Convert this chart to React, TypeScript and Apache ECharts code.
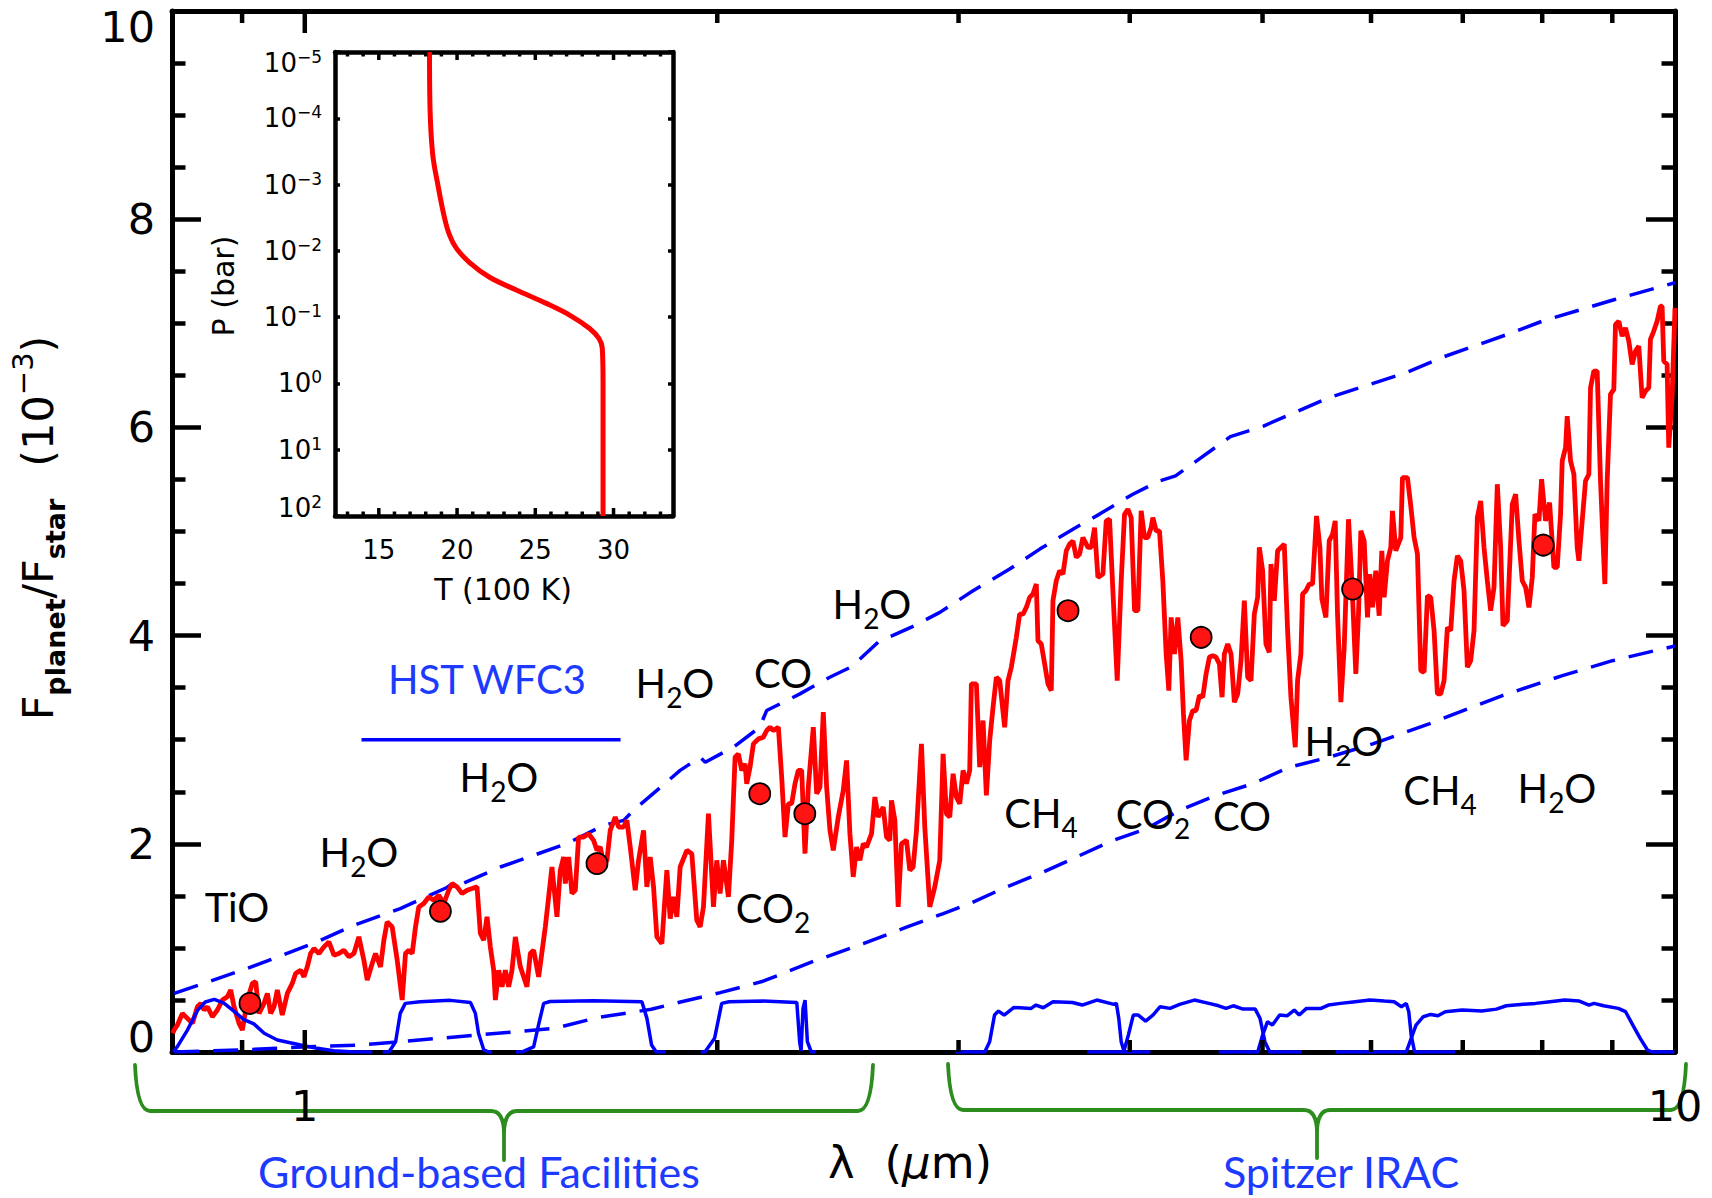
import React, { useEffect, useRef } from 'react';
import * as echarts from 'echarts';

// ---------------- DATA ----------------
// Model emission spectrum (wavelength in micron, Fplanet/Fstar in 1e-3)
const SPEC_1: number[][] = [
  [0.801,0.18],[0.8028,0.211],[0.8073,0.259],[0.8141,0.371],[0.821,0.323],[0.8279,0.275],[0.8349,0.435],[0.8396,0.467],[0.8443,0.403],[0.8491,0.435],
  [0.8562,0.339],[0.8634,0.403],[0.8707,0.499],[0.878,0.531],[0.8829,0.595],[0.8879,0.435],[0.8954,0.275],[0.9004,0.211],[0.908,0.499],[0.9157,0.659],
  [0.9208,0.675],[0.926,0.371],[0.9338,0.467],[0.9391,0.563],[0.9443,0.371],[0.9496,0.435],[0.9549,0.595],[0.9629,0.355],[0.9711,0.563],[0.9792,0.659],
  [0.9847,0.754],[0.993,0.786],[0.9986,0.722],[1.0042,0.818],[1.0098,0.946],[1.0155,0.994],[1.0241,0.946],[1.0327,1.01],[1.0414,1.058],[1.0502,0.93],
  [1.059,0.946],[1.068,0.978],[1.077,0.914],[1.0861,0.946],[1.0951,1.106],[1.1044,0.882],[1.1106,0.691],[1.1199,0.85],[1.1262,0.946],[1.1357,0.818],
  [1.1421,1.074],[1.1485,1.25],[1.1582,1.202],[1.168,0.882],[1.1778,0.499],[1.1844,0.946],[1.1911,0.978],[1.1978,0.946],[1.2045,1.202],[1.2112,1.394],
  [1.2214,1.426],[1.2317,1.49],[1.2421,1.458],[1.2526,1.506],[1.2631,1.426],[1.2737,1.554],[1.2809,1.618],[1.2917,1.586],[1.3025,1.522],[1.3135,1.554],
  [1.3246,1.57],[1.3357,1.586],[1.3432,1.138],[1.3508,1.074],[1.3583,1.298],[1.3659,1.01],[1.3736,0.786],[1.3775,0.499],[1.3852,0.786],[1.393,0.627],
  [1.4008,0.786],[1.4086,0.627],[1.4165,0.786],[1.4245,1.106],[1.4365,0.818],[1.4526,0.627],[1.4608,0.946],[1.469,0.978],[1.4814,0.722],[1.4981,1.202],
  [1.5065,1.49],[1.5149,1.777],[1.5277,1.298],[1.5363,1.746],[1.5449,1.873]
];
const SPEC_2: number[][] = [
  [1.5493,1.618],[1.558,1.873],[1.5667,1.522],[1.5755,1.554],[1.5843,2.065],[1.5977,2.065],[1.6111,2.097],[1.6247,2.033],[1.6338,1.937],[1.643,1.969],
  [1.6522,1.809],[1.6615,1.841],[1.6708,2.129],[1.6849,2.257],[1.6944,2.161],[1.7086,2.161],[1.7182,2.225],[1.7279,1.969],[1.7424,1.554],[1.7522,1.841],
  [1.767,2.129],[1.7769,1.586],[1.7869,1.873],[1.7969,1.586],[1.807,1.106],[1.8222,1.042],[1.8376,1.746],[1.8479,1.282],[1.8582,1.49],[1.8687,1.298],
  [1.8791,1.777],[1.9003,1.937],[1.9163,1.905],[1.9324,1.266],[1.9433,1.202],[1.9542,1.394],[1.9706,2.289],[1.9873,1.394],[1.9984,1.841],[2.0096,1.522],
  [2.0209,1.841],[2.0379,1.49],[2.0493,2.033],[2.0608,2.833],[2.0724,2.864],[2.084,2.705],[2.0956,2.769],[2.1015,2.577],[2.1133,2.737],[2.1252,2.96],
  [2.1431,3.008],[2.1611,3.024],[2.1733,3.088],[2.1855,3.12],[2.1977,3.088],[2.2163,3.12],[2.2287,2.641],[2.2412,2.065],[2.2538,2.385],[2.2664,2.385],
  [2.2791,2.577],[2.2919,2.705],[2.3048,2.705],[2.3177,1.905],[2.3307,2.545],[2.3503,3.12],[2.3635,2.481],[2.3767,2.545],[2.3901,3.264],[2.4035,2.545],
  [2.417,2.129],[2.4305,1.937],[2.451,2.257],[2.4716,2.513],[2.4855,2.801],[2.4994,2.097],[2.5134,1.682],[2.5275,1.969],[2.5417,1.841],[2.556,2.001],
  [2.5703,1.969],[2.592,2.097],[2.6065,2.449],[2.6211,2.257],[2.6432,2.353],[2.658,2.065],[2.6729,2.033],[2.6804,2.417],[2.6955,2.225],[2.7106,1.394],
  [2.7258,2.001],[2.7487,2.033],[2.7641,1.746],[2.7796,1.777],[2.7952,2.129],[2.8187,2.96],[2.8346,2.161],[2.8584,1.394],[2.8825,1.586],[2.9068,1.841],
  [2.9231,2.864]
];
const SPEC_3: number[][] = [
  [2.9395,2.289],[2.956,2.257],[2.9726,2.673],[2.9893,2.449],[3.006,2.385],[3.0229,2.705],[3.0398,2.577],[3.0569,2.705],[3.0654,3.536],[3.0913,3.536],
  [3.1086,2.737],[3.1261,3.184],[3.1436,2.465],[3.1613,2.992],[3.179,3.312],[3.1968,3.6],[3.2148,3.568],[3.2418,3.12],[3.26,3.568],[3.2783,3.696],
  [3.3059,3.983],[3.3244,4.207],[3.3431,4.207],[3.3619,4.271],[3.3808,4.367],[3.3997,4.399],[3.4188,4.495],[3.4284,3.951],[3.4476,3.919],[3.467,3.728],
  [3.4864,3.536],[3.506,3.472],[3.5158,4.335],[3.5355,4.527],[3.5554,4.623],[3.5754,4.591],[3.5954,4.815],[3.6156,4.879],[3.6359,4.91],[3.6563,4.751],
  [3.6768,4.783],[3.6974,4.942],[3.7286,4.847],[3.7495,4.847],[3.7705,5.038],[3.7917,4.559],[3.8236,4.591],[3.845,5.102],[3.8666,5.118],[3.8883,4.431],
  [3.9167,3.568],[3.9431,4.527],[3.9652,5.166],[3.9875,5.214],[4.0098,5.134],[4.0323,4.239],[4.055,4.239],[4.0777,5.198],[4.1006,4.942],[4.1236,4.942],
  [4.1467,5.038],[4.1583,5.134],[4.1817,5.006],[4.2051,5.006],[4.2287,4.527],[4.2524,3.824],[4.2715,3.472],[4.2883,4.175],[4.3123,3.824],[4.3365,4.175],
  [4.3608,3.76],[4.3779,3.248],[4.3975,2.801],[4.4221,3.184],[4.4469,3.28],[4.4719,3.28],[4.4969,3.424],[4.5222,3.408],[4.5475,3.632],[4.573,3.792],
  [4.5987,3.808],[4.6245,3.792],[4.6504,3.728],[4.6712,3.408],[4.6895,3.824],[4.7158,3.919],[4.7423,3.824],[4.7689,3.36],[4.7956,3.44],[4.8225,3.76],
  [4.8495,4.335],[4.8767,3.6],[4.9041,3.568],[4.9316,4.207],[4.9592,4.367],[4.9731,4.847],[5.001,4.623],[5.029,3.919],[5.0572,3.84],[5.0714,4.687],
  [5.0998,4.335],[5.1284,4.815],[5.1572,4.847],[5.1861,4.879],[5.2152,4.047],[5.2444,3.408],[5.2827,2.928],[5.3034,3.568],[5.3332,3.824],[5.3481,4.399],
  [5.3781,4.431],[5.4083,4.495],[5.4386,4.495]
];
const SPEC_4: number[][] = [
  [5.4752,5.15],[5.5059,4.847],[5.5245,4.351],[5.5616,4.175],[5.5928,4.91],[5.6242,4.974],[5.6495,5.102],[5.6716,4.207],[5.7035,3.36],[5.7355,3.888],
  [5.7773,5.118],[5.8097,4.527],[5.8489,3.632],[5.8751,4.207],[5.8981,5.006],[5.9312,4.91],[5.9645,4.175],[5.9879,4.591],[6.0149,4.271],[6.0486,4.623],
  [6.0826,4.191],[6.1099,4.815],[6.1338,4.367],[6.1682,4.719],[6.2028,4.847],[6.2202,5.198],[6.2551,4.815],[6.3078,4.942],[6.3255,5.518],[6.3788,5.518],
  [6.4146,5.246],[6.4506,4.942],[6.4868,4.783],[6.5232,3.664],[6.5598,3.648],[6.5966,4.383],[6.6336,4.367],[6.6707,4.047],[6.7081,3.44],[6.7458,3.44],
  [6.7836,3.568],[6.8216,4.079],[6.8599,4.047],[6.8984,4.527],[6.9371,4.767],[6.976,4.719],[7.0151,4.431],[7.0545,3.696],[7.094,3.76],[7.1338,4.047],
  [7.1738,5.134],[7.2141,5.294],[7.2545,4.847],[7.2952,4.527],[7.3361,4.239],[7.3773,4.463],[7.4187,5.454],[7.4603,4.847],[7.4896,4.095],[7.5442,4.143],
  [7.6078,5.262],[7.6505,5.358],[7.6934,4.91],[7.7365,4.527],[7.7799,4.463],[7.8235,4.271],[7.8674,4.559],[7.9028,5.166],[7.9559,5.102],[7.9917,5.502],
  [8.0454,5.102],[8.0996,5.278],[8.1588,4.655],[8.2046,4.655],[8.2506,5.166],[8.2736,5.678],[8.32,5.806],[8.3434,6.109],[8.3902,5.678],[8.4373,5.55],
  [8.4846,4.847],[8.5083,4.719],[8.5561,5.102],[8.6041,5.486],[8.6524,5.55],[8.6766,6.381],[8.7253,6.541],[8.7742,6.541],[8.8234,5.486],[8.8879,4.495],
  [8.9227,5.486],[8.9727,6.317],[9.0231,6.365],[9.0483,6.989],[9.0991,7.02],[9.1502,6.877],[9.2015,6.957],[9.2531,6.829],[9.3051,6.605],[9.3573,6.733],
  [9.4098,6.781],[9.4626,6.285],[9.5157,6.349],[9.5691,6.381],[9.5958,6.845],[9.6496,6.925],[9.7038,7.02],[9.7582,7.164],[9.7856,7.164],[9.813,6.637],
  [9.8681,6.605],[9.8957,5.806],[9.9525,6.317],[10.0,7.148]
];

// Band-integrated points
const DOT_WL = [0.912, 1.256, 1.634, 2.148, 2.317, 3.606, 4.51, 5.817, 8.014];
const DOT_F = [0.467, 1.352, 1.81, 2.481, 2.289, 4.239, 3.983, 4.447, 4.869];

// Blackbody envelopes (dashed)
const UPPER_WL = [0.803, 0.908, 1.021, 1.086, 1.174, 1.27, 1.284, 1.3, 1.389, 1.553, 1.652, 1.709, 1.74, 1.807, 1.879, 1.943, 1.96, 2.055, 2.148, 2.173, 2.298, 2.416, 2.506, 2.622, 2.774, 2.907, 3.074, 3.269, 3.439, 3.636, 3.802, 4.021, 4.205, 4.32, 4.737, 5.008, 5.593, 5.969, 6.366, 6.789, 7.585, 8.014, 9.037, 10.0];
const UPPER_F = [0.563, 0.803, 1.058, 1.218, 1.378, 1.58, 1.625, 1.61, 1.777, 2.001, 2.177, 2.225, 2.33, 2.513, 2.705, 2.832, 2.784, 2.928, 3.12, 3.28, 3.44, 3.6, 3.7, 3.94, 4.083, 4.223, 4.431, 4.639, 4.831, 5.022, 5.167, 5.358, 5.486, 5.534, 5.911, 6.013, 6.287, 6.407, 6.527, 6.681, 6.904, 7.024, 7.229, 7.39];
const LOWER_WL = [0.803, 0.9, 1.005, 1.099, 1.293, 1.522, 1.634, 1.79, 1.88, 2.01, 2.16, 2.35, 2.556, 2.749, 2.924, 3.057, 3.251, 3.439, 3.657, 3.889, 4.113, 4.349, 4.625, 4.918, 5.231, 5.593, 6.018, 6.615, 7.482, 8.276, 9.002, 9.79, 10.0];
const LOWER_F = [0.0, 0.02, 0.05, 0.067, 0.147, 0.227, 0.33, 0.41, 0.48, 0.57, 0.68, 0.87, 1.04, 1.2, 1.33, 1.426, 1.585, 1.714, 1.873, 2.033, 2.145, 2.321, 2.465, 2.577, 2.736, 2.832, 2.96, 3.152, 3.424, 3.616, 3.759, 3.872, 3.9];

// HST WFC3 coverage
const HST_WL = [1.1, 1.7];
const HST_F = [3.0, 3.0];

// Filter transmission curves (scaled)
const FZ_WL = [0.802, 0.807, 0.821, 0.835, 0.846, 0.859, 0.873, 0.888, 0.903, 0.918, 0.934, 0.955, 0.993, 1.021, 1.05, 1.086, 1.12];
const FZ_F = [0, 0.05, 0.21, 0.4, 0.48, 0.505, 0.47, 0.39, 0.31, 0.27, 0.18, 0.115, 0.067, 0.035, 0.013, 0, 0];
const FJ_WL = [1.14, 1.152, 1.165, 1.174, 1.184, 1.214, 1.277, 1.321, 1.332, 1.339, 1.351, 1.362, 1.37];
const FJ_F = [0, 0, 0.1, 0.371, 0.467, 0.483, 0.496, 0.476, 0.371, 0.18, 0.02, 0, 0];
const FH_WL = [1.426, 1.44, 1.469, 1.482, 1.494, 1.51, 1.624, 1.762, 1.777, 1.791, 1.805, 1.835];
const FH_F = [0, 0, 0.05, 0.275, 0.467, 0.485, 0.492, 0.483, 0.323, 0.067, 0, 0];
const FK_WL = [1.945, 1.959, 1.991, 2.015, 2.04, 2.16, 2.286, 2.297, 2.3025, 2.31, 2.318, 2.327, 2.3425, 2.36];
const FK_F = [0, 0, 0.131, 0.467, 0.483, 0.489, 0.476, 0.099, 0.01, 0.419, 0.499, 0.099, 0, 0];
const I1_WL = [2.985, 3.135, 3.161, 3.187, 3.208, 3.239, 3.293, 3.389, 3.417, 3.459, 3.516, 3.633, 3.693, 3.785, 3.895, 3.911, 3.927, 3.943, 3.963, 4.141];
const I1_F = [0, 0, 0.099, 0.355, 0.393, 0.355, 0.428, 0.419, 0.451, 0.425, 0.483, 0.476, 0.451, 0.499, 0.457, 0.467, 0.323, 0.099, 0, 0];
const I2_WL = [3.724, 3.959, 3.991, 4.024, 4.058, 4.108, 4.159, 4.21, 4.28, 4.35, 4.459, 4.569, 4.645, 4.702, 4.76, 4.839, 4.939, 4.979, 5.02, 5.061, 5.338];
const I2_F = [0, 0, 0.163, 0.355, 0.355, 0.297, 0.355, 0.435, 0.419, 0.457, 0.499, 0.467, 0.444, 0.419, 0.444, 0.412, 0.412, 0.323, 0.099, 0, 0];
const I3_WL = [4.645, 4.96, 5.001, 5.042, 5.084, 5.146, 5.21, 5.274, 5.318, 5.383, 5.517, 5.585, 5.701, 5.842, 5.987, 6.137, 6.237, 6.315, 6.366, 6.393, 6.419, 6.456, 6.91];
const I3_F = [0, 0, 0.163, 0.291, 0.259, 0.355, 0.348, 0.403, 0.355, 0.419, 0.419, 0.451, 0.467, 0.483, 0.499, 0.489, 0.483, 0.435, 0.467, 0.387, 0.163, 0, 0];
const I4_WL = [5.654, 6.366, 6.419, 6.471, 6.551, 6.632, 6.714, 6.797, 6.994, 7.228, 7.408, 7.531, 7.718, 7.91, 8.106, 8.308, 8.515, 8.655, 8.726, 8.87, 9.091, 9.203, 9.316, 9.432, 9.548, 9.627, 9.99];
const I4_F = [0, 0, 0.131, 0.259, 0.339, 0.361, 0.348, 0.387, 0.403, 0.393, 0.412, 0.444, 0.457, 0.467, 0.483, 0.499, 0.489, 0.451, 0.467, 0.444, 0.419, 0.387, 0.259, 0.131, 0.019, 0, 0];

// Inset: temperature-pressure profile (T in 100 K, P in bar)
const TP_T = [18.24, 18.28, 18.45, 18.77, 19.2, 19.52, 19.95, 20.8, 22.08, 23.79, 25.7, 27.19, 28.47, 29.07, 29.28, 29.33, 29.33];
const TP_P = [1e-5, 8.1e-5, 3.6e-4, 1.0e-3, 3.2e-3, 5.8e-3, 9.1e-3, 1.5e-2, 2.5e-2, 3.9e-2, 6.2e-2, 9.3e-2, 0.148, 0.21, 0.295, 1, 100];

// Tick values
const X_MAJOR_TICKS = [1];
const X_MINOR_TICKS = [0.9, 2, 3, 4, 5, 6, 7, 8, 9];
const T_MAJOR_TICKS = [15, 20, 25, 30];
const T_MINOR_TICKS = [13, 14, 16, 17, 18, 19, 21, 22, 23, 24, 26, 27, 28, 29, 31, 32, 33];

// ---------------- STYLE ----------------
const BLUE = '#0000ff';
const RED = '#ff0000';
const GREEN = '#2c8c1e';
const TXT_BLUE = '#1d3bff';
const AX_FONT = 'DejaVu Sans';
const LB_FONT = 'Lato';
const DASH = [25, 14];

const BRACE_L = 'M135 1065 Q137 1111 150 1111 L491 1111 Q504 1111 504 1134 L504 1160 M504 1134 Q504 1111 517 1111 L858 1111 Q871 1111 873 1065';
const BRACE_R = 'M948 1064 Q950 1110 963 1110 L1304 1110 Q1317 1110 1317 1133 L1317 1158 M1317 1133 Q1317 1110 1330 1110 L1671 1110 Q1684 1110 1686 1064';

const pairs = (xs: number[], ys: number[]) => xs.map((x, i) => [x, ys[i]]);

function line(data: number[][], color: string, width: number, type: any, z: number, xi = 0, yi = 0) {
  return {
    type: 'line', data, xAxisIndex: xi, yAxisIndex: yi, showSymbol: false, symbol: 'none',
    lineStyle: { color, width, type }, z, silent: true, clip: true,
  };
}

function label(text: string, x: number, y: number, color = '#000', size = 40) {
  return {
    type: 'text', x, y, silent: true, z: 100,
    style: {
      text, x: 0, y: 0, fill: color, fontFamily: LB_FONT, fontSize: size, align: 'center', verticalAlign: 'middle',
      rich: { s: { fontFamily: LB_FONT, fontSize: 28, fill: color, padding: [27, 0, 0, 0], verticalAlign: 'middle' } },
    },
  };
}

const axLine = (w: number) => ({ show: true, onZero: false, lineStyle: { color: '#000', width: w } });

export default function App() {
  const ref = useRef<HTMLDivElement>(null);
  useEffect(() => {
    if (!ref.current) return;
    echarts.graphic.registerShape('braceL', echarts.graphic.extendPath(BRACE_L, {}));
    echarts.graphic.registerShape('braceR', echarts.graphic.extendPath(BRACE_R, {}));
    const chart = echarts.init(ref.current, null, { renderer: 'svg' });

    const spectrum = [...SPEC_1, ...SPEC_2, ...SPEC_3, ...SPEC_4];
    const mainTicks = [
      ...X_MAJOR_TICKS.map((v) => [v, 1, 1]),
      ...X_MINOR_TICKS.map((v) => [v, 1, 0]),
    ];
    const insetTicks = [
      ...T_MAJOR_TICKS.map((v) => [v, 1, 1]),
      ...T_MINOR_TICKS.map((v) => [v, 1, 0]),
    ];

    const option: any = {
      animation: false,
      backgroundColor: '#ffffff',
      grid: [
        { left: 172, top: 11, width: 1503, height: 1041 },
        { left: 335, top: 52, width: 338, height: 464, show: true, backgroundColor: '#ffffff', borderWidth: 0 },
      ],
      xAxis: [
        {
          type: 'log', logBase: 10, gridIndex: 0, min: 0.8, max: 10, position: 'bottom',
          axisLine: axLine(5), axisTick: { show: false }, splitLine: { show: false },
          axisLabel: {
            color: '#000', fontFamily: AX_FONT, fontSize: 43, margin: 32,
            formatter: (v: number) => (Math.abs(v - 1) < 1e-6 ? '1' : Math.abs(v - 10) < 1e-6 ? '10' : ''),
          },
        },
        {
          type: 'log', logBase: 10, gridIndex: 0, min: 0.8, max: 10, position: 'top',
          axisLine: axLine(5), axisTick: { show: false }, splitLine: { show: false }, axisLabel: { show: false },
        },
        {
          type: 'value', gridIndex: 1, min: 12.2, max: 33.8, position: 'bottom', splitNumber: 4,
          axisLine: axLine(4.5), axisTick: { show: false }, splitLine: { show: false },
          axisLabel: { color: '#000', fontFamily: AX_FONT, fontSize: 26, margin: 21, showMinLabel: false, showMaxLabel: false },
        },
        {
          type: 'value', gridIndex: 1, min: 12.2, max: 33.8, position: 'top', splitNumber: 4,
          axisLine: axLine(4.5), axisTick: { show: false }, splitLine: { show: false }, axisLabel: { show: false },
        },
      ],
      yAxis: [
        {
          type: 'value', gridIndex: 0, min: 0, max: 10, interval: 2, position: 'left',
          axisLine: axLine(5),
          axisTick: { show: true, inside: true, length: 29, lineStyle: { color: '#000', width: 4.5 } },
          minorTick: { show: true, splitNumber: 4, length: 13.5, lineStyle: { color: '#000', width: 4.5 } },
          splitLine: { show: false }, minorSplitLine: { show: false },
          axisLabel: {
            color: '#000', fontFamily: AX_FONT, fontSize: 43, margin: 17,
            formatter: (v: number) => (v === 10 ? '{t|10}' : v === 0 ? '{b|0}' : String(v)),
            rich: {
              t: { color: '#000', fontFamily: AX_FONT, fontSize: 43, padding: [32, 0, 0, 0] },
              b: { color: '#000', fontFamily: AX_FONT, fontSize: 43, padding: [0, 0, 30, 0] },
            },
          },
        },
        {
          type: 'value', gridIndex: 0, min: 0, max: 10, interval: 2, position: 'right',
          axisLine: axLine(5),
          axisTick: { show: true, inside: true, length: 29, lineStyle: { color: '#000', width: 4.5 } },
          minorTick: { show: true, splitNumber: 4, length: 13.5, lineStyle: { color: '#000', width: 4.5 } },
          splitLine: { show: false }, minorSplitLine: { show: false }, axisLabel: { show: false },
        },
        {
          type: 'log', logBase: 10, gridIndex: 1, min: 1e-5, max: 100, inverse: true, position: 'left',
          axisLine: axLine(4.5),
          axisTick: { show: true, inside: true, length: 5, lineStyle: { color: '#000', width: 3.5 } },
          splitLine: { show: false },
          axisLabel: {
            color: '#000', fontFamily: AX_FONT, fontSize: 26, margin: 13,
            formatter: (v: number) => {
              const e = Math.round(Math.log10(v));
              const s = e < 0 ? '\u2212' + -e : String(e);
              if (e === -5) return `{bt|10}{et|${s}}`;
              if (e === 2) return `{bb|10}{eb|${s}}`;
              return `{b|10}{e|${s}}`;
            },
            rich: {
              b: { color: '#000', fontFamily: AX_FONT, fontSize: 26 },
              e: { color: '#000', fontFamily: AX_FONT, fontSize: 17, padding: [0, 0, 12, 0] },
              bt: { color: '#000', fontFamily: AX_FONT, fontSize: 26, padding: [21, 0, 0, 0] },
              et: { color: '#000', fontFamily: AX_FONT, fontSize: 17, padding: [21, 0, 12, 0] },
              bb: { color: '#000', fontFamily: AX_FONT, fontSize: 26, padding: [0, 0, 16, 0] },
              eb: { color: '#000', fontFamily: AX_FONT, fontSize: 17, padding: [0, 0, 28, 0] },
            },
          },
        },
        {
          type: 'log', logBase: 10, gridIndex: 1, min: 1e-5, max: 100, inverse: true, position: 'right',
          axisLine: axLine(4.5),
          axisTick: { show: true, inside: true, length: 5, lineStyle: { color: '#000', width: 3.5 } },
          splitLine: { show: false }, axisLabel: { show: false },
        },
      ],
      series: [
        line(pairs(UPPER_WL, UPPER_F), BLUE, 3.5, DASH, 2),
        line(pairs(LOWER_WL, LOWER_F), BLUE, 3.5, DASH, 2),
        line(spectrum, RED, 4.8, 'solid', 3),
        line(pairs(HST_WL, HST_F), BLUE, 3.5, 'solid', 3),
        line(pairs(FZ_WL, FZ_F), BLUE, 3.5, 'solid', 4),
        line(pairs(FJ_WL, FJ_F), BLUE, 3.5, 'solid', 4),
        line(pairs(FH_WL, FH_F), BLUE, 3.5, 'solid', 4),
        line(pairs(FK_WL, FK_F), BLUE, 3.5, 'solid', 4),
        line(pairs(I1_WL, I1_F), BLUE, 3.5, 'solid', 4),
        line(pairs(I2_WL, I2_F), BLUE, 3.5, 'solid', 4),
        line(pairs(I3_WL, I3_F), BLUE, 3.5, 'solid', 4),
        line(pairs(I4_WL, I4_F), BLUE, 3.5, 'solid', 4),
        {
          type: 'scatter', xAxisIndex: 0, yAxisIndex: 0, data: pairs(DOT_WL, DOT_F), symbol: 'circle', symbolSize: 21,
          itemStyle: { color: '#ff1414', borderColor: '#000', borderWidth: 1.8, opacity: 1 }, z: 6, silent: true,
        },
        {
          type: 'custom', xAxisIndex: 0, yAxisIndex: 0, data: mainTicks, encode: { x: 0, y: 1 }, z: 5, silent: true, clip: false,
          renderItem: (params: any, api: any) => {
            const v = api.value(0);
            const major = api.value(2) === 1;
            const b = api.coord([v, 0]);
            const t = api.coord([v, 10]);
            const len = major ? 22 : 12;
            const st = { stroke: '#000', lineWidth: 4.5 };
            return {
              type: 'group',
              children: [
                { type: 'line', shape: { x1: b[0], y1: b[1], x2: b[0], y2: b[1] - len }, style: st },
                { type: 'line', shape: { x1: t[0], y1: t[1], x2: t[0], y2: t[1] + len }, style: st },
              ],
            };
          },
        },
        {
          ...line(pairs(TP_T, TP_P), RED, 5, 'solid', 10, 2, 2),
          smooth: 0.35,
        },
        {
          type: 'custom', xAxisIndex: 2, yAxisIndex: 2, data: insetTicks, encode: { x: 0, y: 1 }, z: 11, silent: true, clip: false,
          renderItem: (params: any, api: any) => {
            const v = api.value(0);
            const major = api.value(2) === 1;
            const top = api.coord([v, 1e-5]);
            const bot = api.coord([v, 100]);
            const len = major ? 8 : 4.5;
            const st = { stroke: '#000', lineWidth: 3.5 };
            return {
              type: 'group',
              children: [
                { type: 'line', shape: { x1: bot[0], y1: bot[1], x2: bot[0], y2: bot[1] - len }, style: st },
                { type: 'line', shape: { x1: top[0], y1: top[1], x2: top[0], y2: top[1] + len }, style: st },
              ],
            };
          },
        },
      ],
      graphic: [
        {
          type: 'text', x: 38, y: 528, rotation: Math.PI / 2, silent: true,
          style: {
            text: 'F{sb|planet}/F{sb|star}{pl|(10}{sp|\u22123})',
            fill: '#000', fontFamily: AX_FONT, fontSize: 43, align: 'center', verticalAlign: 'middle',
            rich: {
              sb: { fill: '#000', fontFamily: AX_FONT, fontSize: 27, fontWeight: 'bold', padding: [34, 0, 0, 0], verticalAlign: 'middle' },
              pl: { fill: '#000', fontFamily: AX_FONT, fontSize: 43, padding: [0, 0, 0, 32], verticalAlign: 'middle' },
              sp: { fill: '#000', fontFamily: AX_FONT, fontSize: 29, padding: [0, 0, 30, 0], verticalAlign: 'middle' },
            },
          },
        },
        {
          type: 'text', x: 910, y: 1162, silent: true,
          style: {
            text: '\u03bb{pa|(}{mu|\u03bc}m)', fill: '#000', fontFamily: AX_FONT, fontSize: 45, align: 'center', verticalAlign: 'middle',
            rich: {
              pa: { fill: '#000', fontFamily: AX_FONT, fontSize: 45, padding: [0, 0, 0, 30] },
              mu: { fill: '#000', fontFamily: AX_FONT, fontSize: 45, fontStyle: 'italic' },
            },
          },
        },
        {
          type: 'text', x: 503, y: 589, silent: true,
          style: { text: 'T (100 K)', fill: '#000', fontFamily: AX_FONT, fontSize: 30, align: 'center', verticalAlign: 'middle' },
        },
        {
          type: 'text', x: 223, y: 286, rotation: Math.PI / 2, silent: true,
          style: { text: 'P (bar)', fill: '#000', fontFamily: AX_FONT, fontSize: 30, align: 'center', verticalAlign: 'middle' },
        },
        label('TiO', 237, 907),
        label('H{s|2}O', 359, 852),
        label('H{s|2}O', 499, 777),
        label('HST WFC3', 487, 679, TXT_BLUE),
        label('H{s|2}O', 675, 683),
        label('CO', 783, 673),
        label('CO{s|2}', 773, 908),
        label('H{s|2}O', 872, 604),
        label('CH{s|4}', 1041, 813),
        label('CO{s|2}', 1153, 814),
        label('CO', 1242, 816),
        label('H{s|2}O', 1344, 741),
        label('CH{s|4}', 1440, 790),
        label('H{s|2}O', 1557, 788),
        label('Ground-based Facilities', 479, 1171, TXT_BLUE, 43),
        label('Spitzer IRAC', 1341, 1171, TXT_BLUE, 43),
        { type: 'braceL', silent: true, style: { fill: 'none', stroke: GREEN, lineWidth: 3.8, lineCap: 'round', lineJoin: 'round' } },
        { type: 'braceR', silent: true, style: { fill: 'none', stroke: GREEN, lineWidth: 3.8, lineCap: 'round', lineJoin: 'round' } },
      ],
    };

    chart.setOption(option);
    return () => chart.dispose();
  }, []);

  return (
    <div
      ref={ref}
      style={{ position: 'absolute', left: 0, top: 0, width: 1712, height: 1198, background: '#ffffff' }}
    />
  );
}
